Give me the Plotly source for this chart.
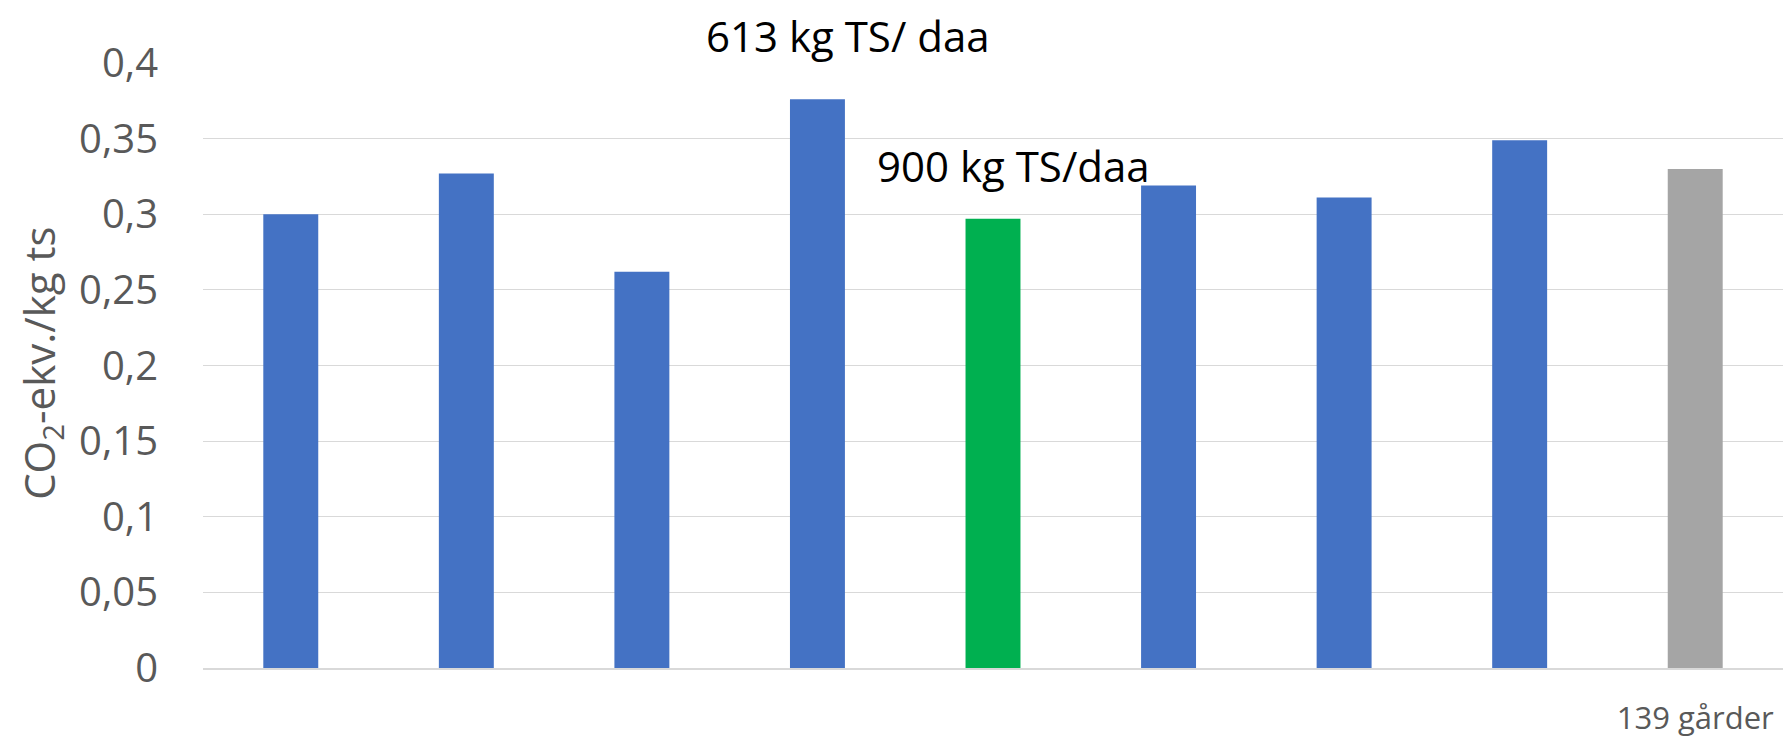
import plotly.graph_objects as go

categories = ["Gård 1", "Gård 2", "Gård 3", "Gård 4", "Gård 5", "Gård 6", "Gård 7", "Gård 8", "Snitt"]
tick_labels = ["", "", "", "", "", "", "", "", "139 gårder"]
values = [0.300, 0.327, 0.262, 0.376, 0.297, 0.319, 0.311, 0.349, 0.330]
colors = ["#4472C4", "#4472C4", "#4472C4", "#4472C4", "#00B050", "#4472C4", "#4472C4", "#4472C4", "#A5A5A5"]
y_ticks = [0, 0.05, 0.1, 0.15, 0.2, 0.25, 0.3, 0.35, 0.4]
y_tick_text = ["0", "0,05", "0,1", "0,15", "0,2", "0,25", "0,3", "0,35", "0,4"]

fig = go.Figure(go.Bar(x=categories, y=values, marker=dict(color=colors, line=dict(width=0)),
                       hoverinfo="skip"))

W, H = 1785, 737
ml, mr, mt, mb = 203, 2, 63, 69

fig.update_layout(
    width=W, height=H,
    margin=dict(l=ml, r=mr, t=mt, b=mb, autoexpand=False),
    paper_bgcolor="white", plot_bgcolor="white",
    bargap=0.687,
    showlegend=False,
    font=dict(family="Open Sans", color="#595959"),
)
fig.update_xaxes(
    tickmode="array", tickvals=categories, ticktext=tick_labels,
    tickfont=dict(size=31, color="#595959", family="Open Sans"),
    showgrid=False, showline=True, linecolor="#D9D9D9", linewidth=1.5,
    ticks="", ticklabelstandoff=22, automargin=False,
)
fig.update_yaxes(
    range=[0, 0.4], tickmode="array", tickvals=y_ticks, ticktext=y_tick_text,
    tickfont=dict(size=40, color="#595959", family="Open Sans"),
    showgrid=True, gridcolor="#D9D9D9", gridwidth=1.2,
    zeroline=False, showline=False, ticks="", ticklabelstandoff=44, automargin=False,
)

fig.add_annotation(text="CO<sub>2</sub>-ekv./kg ts", xref="paper", yref="paper",
                   x=(42 - ml) / (W - ml - mr), y=(668.3 - 364) / (668.3 - 63),
                   xanchor="center", yanchor="middle", textangle=-90, showarrow=False,
                   font=dict(size=42, color="#595959", family="Open Sans"))
fig.add_annotation(text="613 kg TS/ daa", xref="paper", yref="paper",
                   x=(848 - ml) / (W - ml - mr), y=(668.3 - 35) / (668.3 - 63),
                   xanchor="center", yanchor="middle", showarrow=False,
                   font=dict(size=42, color="black", family="Open Sans"))
fig.add_annotation(text="900 kg TS/daa", xref="paper", yref="paper",
                   x=(1013.5 - ml) / (W - ml - mr), y=(668.3 - 166) / (668.3 - 63),
                   xanchor="center", yanchor="middle", showarrow=False,
                   font=dict(size=42, color="black", family="Open Sans"))

fig.write_html("out.html", config={"displayModeBar": False},
               post_script="document.body.style.margin='0';document.body.style.overflow='hidden';")
